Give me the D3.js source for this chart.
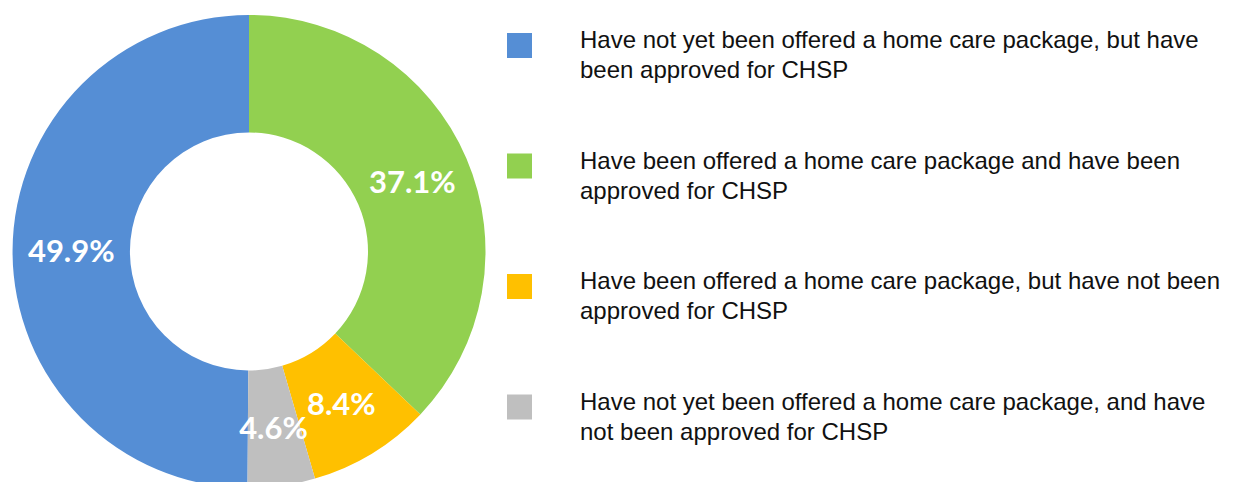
<!DOCTYPE html>
<meta charset="utf-8">
<script src="https://d3js.org/d3.v7.min.js"></script>
<style>
  body { margin: 0; background: #fff; }
  .pct { font-family: Lato, "Open Sans", sans-serif; font-weight: bold; fill: #fff; }
  .legend text { font-family: "Liberation Sans", Arial, sans-serif; fill: #111; }
</style>
<body></body>
<script>

// legend order (blue, green, yellow, grey)
var categories = [
  ["Have not yet been offered a home care package, but have", "been approved for CHSP"],
  ["Have been offered a home care package and have been", "approved for CHSP"],
  ["Have been offered a home care package, but have not been", "approved for CHSP"],
  ["Have not yet been offered a home care package, and have", "not been approved for CHSP"]
];
var values = [49.9, 37.1, 8.4, 4.6];
var colors = ["#558ed5", "#92d050", "#ffc000", "#bfbfbf"];

var width = 1234,
    height = 482;

var svg = d3.select("body").append("svg")
    .attr("width", width)
    .attr("height", height);

var cx = 249, cy = 251.5,
    outerR = 236.5, innerR = 119;

var total = d3.sum(values);
// blue slice ends at 12 o'clock, the rest run clockwise from there
var start = -values[0] / total * 2 * Math.PI;

var pie = d3.pie()
    .sort(null)
    .value(function(d) { return d; })
    .startAngle(start)
    .endAngle(start + 2 * Math.PI);

var arc = d3.arc()
    .innerRadius(innerR)
    .outerRadius(outerR);

var g = svg.append("g").attr("transform", "translate(" + cx + "," + cy + ")");

var slices = g.selectAll("path").data(pie(values));

slices.enter().append("path")
    .attr("d", arc)
    .attr("fill", function(d, i) { return colors[i]; });

g.selectAll("text.pct").data(pie(values))
  .enter().append("text")
    .attr("class", "pct")
    .attr("x", function(d) { return arc.centroid(d)[0]; })
    .attr("y", function(d) { return arc.centroid(d)[1]; })
    .attr("dy", "0.36em")
    .attr("text-anchor", "middle")
    .style("font-size", "31px")
    .text(function(d) { return d.value.toFixed(1) + "%"; });

// legend
var legY = d3.scalePoint()
    .domain(d3.range(categories.length))
    .range([33, 394.5]);

var leg = svg.append("g").attr("class", "legend")
  .selectAll("g").data(categories)
  .enter().append("g")
    .attr("transform", function(d, i) { return "translate(507," + legY(i) + ")"; });

leg.append("rect")
    .attr("width", 25)
    .attr("height", 25)
    .attr("fill", function(d, i) { return colors[i]; });

leg.append("text")
    .attr("x", 73)
    .attr("y", 15)
    .style("font-size", "24px")
  .selectAll("tspan").data(function(d) { return d; })
  .enter().append("tspan")
    .attr("x", 73)
    .attr("dy", function(d, i) { return i ? 30 : 0; })
    .text(function(d) { return d; });

</script>
</html>
